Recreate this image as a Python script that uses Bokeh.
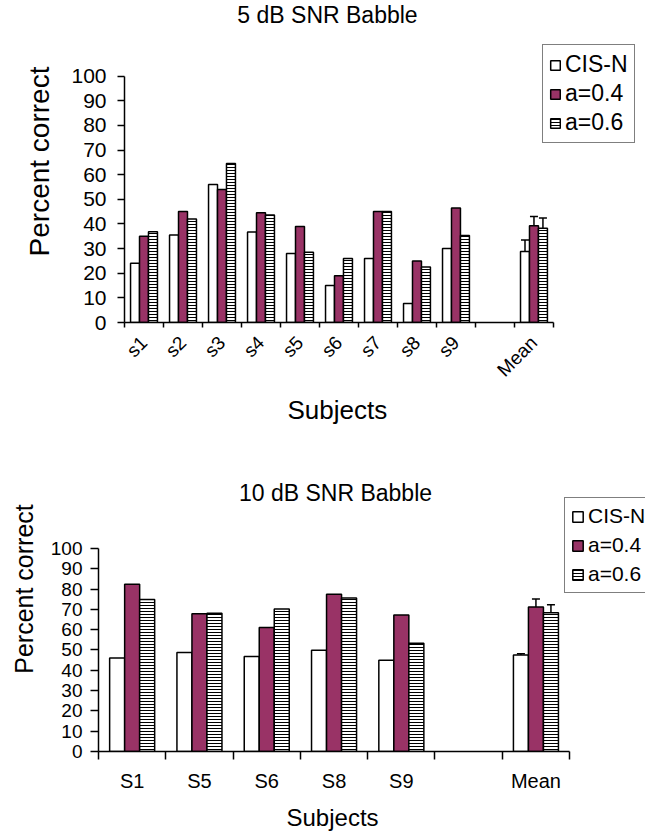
import math
from bokeh.plotting import figure
from bokeh.layouts import column
from bokeh.models import (ColumnDataSource, Range1d, FixedTicker, CustomJSTickFormatter,
                          Legend, LegendItem, Label, Whisker, TeeHead, Title)
from bokeh.embed import file_html
from bokeh.resources import INLINE

FONT = "Liberation Sans"

series_names = ["CIS-N", "a=0.4", "a=0.6"]

# ---- top chart: 5 dB SNR Babble ----
top_title = "5 dB SNR Babble"
top_categories = ["s1", "s2", "s3", "s4", "s5", "s6", "s7", "s8", "s9", "", "Mean"]
top_cis = [24, 35.5, 56, 36.7, 28, 15, 26, 7.7, 30, None, 28.8]
top_a04 = [35, 45, 54, 44.5, 39, 19, 45, 25, 46.5, None, 39.3]
top_a06 = [36.8, 42, 64.5, 43.6, 28.5, 26, 45, 22.5, 35.3, None, 38.2]
top_mean_err = [4.7, 3.7, 4.2]

# ---- bottom chart: 10 dB SNR Babble ----
bot_title = "10 dB SNR Babble"
bot_categories = ["S1", "S5", "S6", "S8", "S9", "", "Mean"]
bot_cis = [46, 48.8, 46.8, 49.8, 44.9, None, 47.5]
bot_a04 = [82.4, 67.8, 61.1, 77.4, 67.2, None, 71.2]
bot_a06 = [74.8, 68.1, 70.1, 75.6, 53.3, None, 68.3]
bot_mean_err = [0.6, 3.9, 3.9]

y_ticks = list(range(0, 101, 10))
y_max = 100

STYLES = [
    dict(fill_color="white", line_color="black"),
    dict(fill_color="#993366", line_color="black"),
    dict(fill_color="white", line_color="black", hatch_pattern="horizontal_line",
         hatch_color="black", hatch_scale=3, hatch_weight=1),
]


def make_chart(title, categories, series, mean_err, cfg):
    n = len(categories)
    p = figure(width=645, height=cfg["h"], output_backend="svg", toolbar_location=None,
               x_range=Range1d(0, cfg["xmax"]), y_range=Range1d(0, cfg["ymax"]),
               min_border_left=cfg["bl"], min_border_right=0,
               min_border_top=0, min_border_bottom=cfg["bb"],
               background_fill_color="white", border_fill_color="white",
               frame_align=False)
    p.outline_line_color = None
    p.grid.visible = False

    bw = cfg["bw"]
    items = []
    mean_idx = categories.index("Mean")
    wx, wlo, whi = [], [], []
    for k, vals in enumerate(series):
        off = (k - 1) * bw
        xs = [i + 0.5 + off for i, v in enumerate(vals) if v is not None]
        tops = [v for v in vals if v is not None]
        src = ColumnDataSource(dict(x=xs, top=tops))
        r = p.vbar(x="x", top="top", bottom=0, width=bw, source=src, line_width=1.5,
                   **STYLES[k])
        items.append(LegendItem(label=series_names[k], renderers=[r]))
        wx.append(mean_idx + 0.5 + off)
        wlo.append(vals[mean_idx])
        whi.append(vals[mean_idx] + mean_err[k])

    wsrc = ColumnDataSource(dict(x=wx, lower=wlo, upper=whi))
    w = Whisker(base="x", lower="lower", upper="upper", source=wsrc,
                upper_head=TeeHead(size=8, line_width=1.5, line_color="black"),
                lower_head=None, line_width=1.5, line_color="black")
    p.add_layout(w)

    # x axis
    xa = p.xaxis[0]
    xa.bounds = (0, n)
    xa.ticker = FixedTicker(ticks=[i + 0.5 for i in range(n)], minor_ticks=list(range(n + 1)))
    xa.formatter = CustomJSTickFormatter(args=dict(labels=categories),
        code="const i = Math.floor(tick); return (i >= 0 && i < labels.length) ? labels[i] : '';")
    xa.major_tick_line_color = None
    xa.major_tick_out = cfg["xt"]
    xa.major_tick_in = 0
    xa.minor_tick_out = cfg["xt"]
    xa.minor_tick_in = 0
    xa.minor_tick_line_color = "black"
    xa.minor_tick_line_width = 1.5
    xa.axis_line_width = 1.5
    xa.major_label_text_font = FONT
    xa.major_label_text_font_size = cfg["xf"]
    xa.major_label_text_color = "black"
    xa.major_label_standoff = cfg["xs"]
    if cfg["rot"]:
        xa.major_label_orientation = math.pi / 4

    p.add_layout(Title(text="Subjects", align="left", offset=cfg["so"], standoff=cfg["ss"],
                       text_font=FONT, text_font_size=cfg["sf"], text_font_style="normal",
                       text_color="black"), "below")

    # y axis
    ya = p.yaxis[0]
    ya.bounds = (0, y_max)
    ya.ticker = FixedTicker(ticks=y_ticks, minor_ticks=[])
    ya.major_tick_out = cfg["yt"]
    ya.major_tick_in = 0
    ya.major_tick_line_width = 1.5
    ya.axis_line_width = 1.5
    ya.major_label_text_font = FONT
    ya.major_label_text_font_size = cfg["yf"]
    ya.major_label_text_color = "black"
    ya.major_label_standoff = cfg["ys"]
    ya.axis_label = "Percent correct"
    ya.axis_label_text_font = FONT
    ya.axis_label_text_font_size = cfg["alf"]
    ya.axis_label_text_font_style = "normal"
    ya.axis_label_text_color = "black"
    ya.axis_label_standoff = cfg["als"]

    legend = Legend(items=items, location=cfg["leg"], orientation="vertical",
                    border_line_color="black", border_line_width=1.5,
                    background_fill_color="white", background_fill_alpha=1.0,
                    label_text_font=FONT, label_text_font_size=cfg["lf"],
                    label_text_color="black",
                    glyph_width=cfg["gw"], glyph_height=cfg["gw"], label_standoff=4,
                    label_height=18, spacing=cfg["lsp"], padding=6, margin=0)
    p.add_layout(legend, "center")

    p.add_layout(Label(x=cfg["tx"], y=cfg["ty"], x_units="screen", y_units="screen",
                       text=title, text_font=FONT, text_font_size=cfg["tf"],
                       text_align="center", text_baseline="middle", text_color="black"))
    return p


top_cfg = dict(h=426, bl=124, bb=98, xmax=13.36, ymax=130.68, bw=0.23, xt=5, xf="19px",
               xs=12, rot=True, sf="26px", ss=4, so=163,
               yt=7, yf="21px", ys=11, alf="28px", als=13, leg=(418, 179), lf="23px",
               gw=12, lsp=2, tx=203, ty=308, tf="23px")
bot_cfg = dict(h=411, bl=98, bb=83, xmax=8.128, ymax=160.0, bw=0.223, xt=8, xf="20px",
               xs=10, rot=False, sf="24px", ss=14, so=188,
               yt=8, yf="19px", ys=8, alf="25px", als=10, leg=(466, 158), lf="21px",
               gw=13, lsp=5, tx=237, ty=259, tf="23px")

p1 = make_chart(top_title, top_categories, [top_cis, top_a04, top_a06], top_mean_err, top_cfg)
p2 = make_chart(bot_title, bot_categories, [bot_cis, bot_a04, bot_a06], bot_mean_err, bot_cfg)

layout = column(p1, p2, spacing=0)
open("out.html", "w").write(file_html(layout, INLINE, "Percent correct"))
